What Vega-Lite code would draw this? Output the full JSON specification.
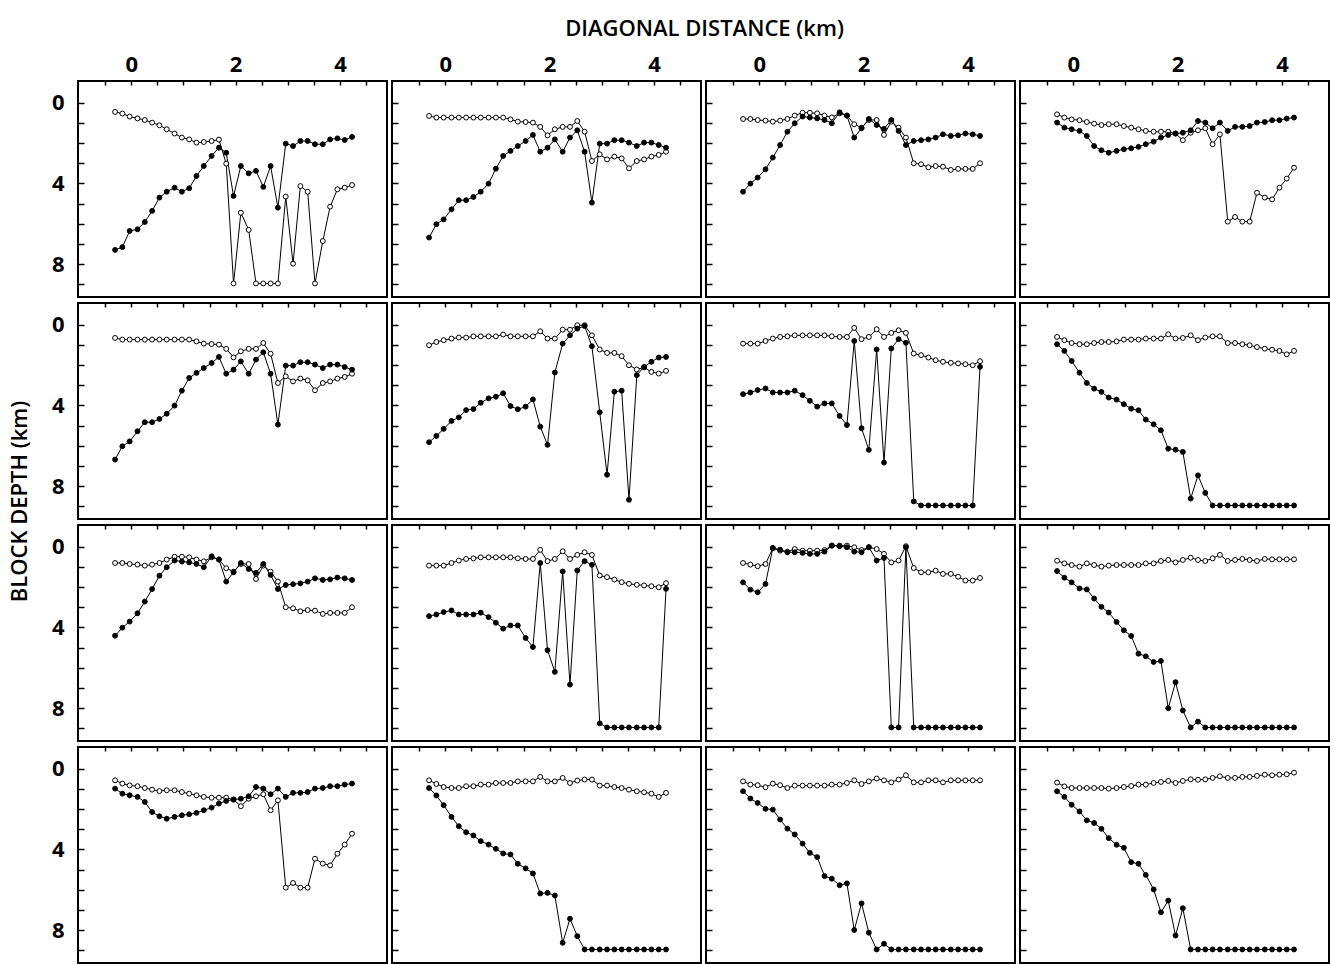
{
  "$schema": "https://vega.github.io/schema/vega-lite/v6.json",
  "padding": {"left": 7, "top": 16, "right": 0, "bottom": 0},
  "background": "white",
  "data": {"values": [
    {"block":16,"dist":-0.31,"open":0.46,"filled":7.29},{"block":16,"dist":-0.17,"open":0.54,"filled":7.15},{"block":16,"dist":-0.03,"open":0.69,"filled":6.35},{"block":16,"dist":0.12,"open":0.78,"filled":6.27},{"block":16,"dist":0.26,"open":0.86,"filled":5.91},{"block":16,"dist":0.40,"open":0.99,"filled":5.36},{"block":16,"dist":0.54,"open":1.12,"filled":4.70},{"block":16,"dist":0.68,"open":1.32,"filled":4.41},{"block":16,"dist":0.83,"open":1.53,"filled":4.21},{"block":16,"dist":0.97,"open":1.73,"filled":4.41},{"block":16,"dist":1.11,"open":1.82,"filled":4.24},{"block":16,"dist":1.25,"open":1.98,"filled":3.63},{"block":16,"dist":1.39,"open":1.95,"filled":3.14},{"block":16,"dist":1.54,"open":1.90,"filled":2.64},{"block":16,"dist":1.68,"open":1.83,"filled":2.23},{"block":16,"dist":1.82,"open":3.02,"filled":2.48},{"block":16,"dist":1.96,"open":8.95,"filled":4.62},{"block":16,"dist":2.10,"open":5.45,"filled":3.14},{"block":16,"dist":2.25,"open":6.30,"filled":3.50},{"block":16,"dist":2.39,"open":8.95,"filled":3.38},{"block":16,"dist":2.53,"open":8.95,"filled":4.17},{"block":16,"dist":2.67,"open":8.95,"filled":3.14},{"block":16,"dist":2.81,"open":8.95,"filled":5.20},{"block":16,"dist":2.96,"open":4.65,"filled":2.03},{"block":16,"dist":3.10,"open":7.97,"filled":2.15},{"block":16,"dist":3.24,"open":4.13,"filled":1.90},{"block":16,"dist":3.38,"open":4.41,"filled":1.90},{"block":16,"dist":3.52,"open":8.95,"filled":2.06},{"block":16,"dist":3.67,"open":6.85,"filled":2.06},{"block":16,"dist":3.81,"open":5.15,"filled":1.82},{"block":16,"dist":3.95,"open":4.29,"filled":1.77},{"block":16,"dist":4.09,"open":4.21,"filled":1.85},{"block":16,"dist":4.23,"open":4.08,"filled":1.70},

    {"block":15,"dist":-0.31,"open":0.66,"filled":6.68},{"block":15,"dist":-0.17,"open":0.74,"filled":6.02},{"block":15,"dist":-0.03,"open":0.74,"filled":5.78},{"block":15,"dist":0.12,"open":0.74,"filled":5.28},{"block":15,"dist":0.26,"open":0.74,"filled":4.83},{"block":15,"dist":0.40,"open":0.74,"filled":4.83},{"block":15,"dist":0.54,"open":0.74,"filled":4.67},{"block":15,"dist":0.68,"open":0.74,"filled":4.41},{"block":15,"dist":0.83,"open":0.74,"filled":4.01},{"block":15,"dist":0.97,"open":0.74,"filled":3.27},{"block":15,"dist":1.11,"open":0.74,"filled":2.64},{"block":15,"dist":1.25,"open":0.83,"filled":2.39},{"block":15,"dist":1.39,"open":0.94,"filled":2.15},{"block":15,"dist":1.54,"open":0.96,"filled":1.90},{"block":15,"dist":1.68,"open":0.99,"filled":1.60},{"block":15,"dist":1.82,"open":1.20,"filled":2.43},{"block":15,"dist":1.96,"open":1.62,"filled":2.23},{"block":15,"dist":2.10,"open":1.32,"filled":1.82},{"block":15,"dist":2.25,"open":1.20,"filled":2.43},{"block":15,"dist":2.39,"open":1.20,"filled":1.73},{"block":15,"dist":2.53,"open":0.91,"filled":1.37},{"block":15,"dist":2.67,"open":1.44,"filled":2.43},{"block":15,"dist":2.81,"open":2.89,"filled":4.95},{"block":15,"dist":2.96,"open":2.56,"filled":2.03},{"block":15,"dist":3.10,"open":2.81,"filled":2.03},{"block":15,"dist":3.24,"open":2.67,"filled":1.86},{"block":15,"dist":3.38,"open":2.76,"filled":1.86},{"block":15,"dist":3.52,"open":3.25,"filled":1.98},{"block":15,"dist":3.67,"open":2.89,"filled":2.15},{"block":15,"dist":3.81,"open":2.81,"filled":1.98},{"block":15,"dist":3.95,"open":2.67,"filled":1.98},{"block":15,"dist":4.09,"open":2.59,"filled":2.10},{"block":15,"dist":4.23,"open":2.43,"filled":2.23},

    {"block":14,"dist":-0.31,"open":0.81,"filled":4.41},{"block":14,"dist":-0.17,"open":0.81,"filled":4.01},{"block":14,"dist":-0.03,"open":0.86,"filled":3.71},{"block":14,"dist":0.12,"open":0.89,"filled":3.30},{"block":14,"dist":0.26,"open":0.94,"filled":2.72},{"block":14,"dist":0.40,"open":0.89,"filled":2.10},{"block":14,"dist":0.54,"open":0.81,"filled":1.44},{"block":14,"dist":0.68,"open":0.64,"filled":1.02},{"block":14,"dist":0.83,"open":0.50,"filled":0.69},{"block":14,"dist":0.97,"open":0.50,"filled":0.74},{"block":14,"dist":1.11,"open":0.53,"filled":0.78},{"block":14,"dist":1.25,"open":0.64,"filled":0.86},{"block":14,"dist":1.39,"open":0.73,"filled":1.02},{"block":14,"dist":1.54,"open":0.53,"filled":0.48},{"block":14,"dist":1.68,"open":0.64,"filled":0.64},{"block":14,"dist":1.82,"open":1.07,"filled":1.73},{"block":14,"dist":1.96,"open":1.24,"filled":1.27},{"block":14,"dist":2.10,"open":0.86,"filled":0.81},{"block":14,"dist":2.25,"open":0.86,"filled":1.11},{"block":14,"dist":2.39,"open":1.60,"filled":1.30},{"block":14,"dist":2.53,"open":0.94,"filled":0.86},{"block":14,"dist":2.67,"open":1.24,"filled":1.40},{"block":14,"dist":2.81,"open":1.73,"filled":2.10},{"block":14,"dist":2.96,"open":3.00,"filled":1.90},{"block":14,"dist":3.10,"open":3.05,"filled":1.86},{"block":14,"dist":3.24,"open":3.20,"filled":1.82},{"block":14,"dist":3.38,"open":3.14,"filled":1.73},{"block":14,"dist":3.52,"open":3.17,"filled":1.57},{"block":14,"dist":3.67,"open":3.33,"filled":1.65},{"block":14,"dist":3.81,"open":3.28,"filled":1.62},{"block":14,"dist":3.95,"open":3.28,"filled":1.53},{"block":14,"dist":4.09,"open":3.28,"filled":1.57},{"block":14,"dist":4.23,"open":3.00,"filled":1.65},

    {"block":13,"dist":-0.31,"open":0.58,"filled":0.99},{"block":13,"dist":-0.17,"open":0.74,"filled":1.24},{"block":13,"dist":-0.03,"open":0.83,"filled":1.32},{"block":13,"dist":0.12,"open":0.87,"filled":1.40},{"block":13,"dist":0.26,"open":0.96,"filled":1.65},{"block":13,"dist":0.40,"open":1.04,"filled":2.15},{"block":13,"dist":0.54,"open":1.11,"filled":2.36},{"block":13,"dist":0.68,"open":1.07,"filled":2.48},{"block":13,"dist":0.83,"open":1.07,"filled":2.39},{"block":13,"dist":0.97,"open":1.16,"filled":2.31},{"block":13,"dist":1.11,"open":1.24,"filled":2.26},{"block":13,"dist":1.25,"open":1.32,"filled":2.19},{"block":13,"dist":1.39,"open":1.40,"filled":2.06},{"block":13,"dist":1.54,"open":1.44,"filled":1.93},{"block":13,"dist":1.68,"open":1.44,"filled":1.73},{"block":13,"dist":1.82,"open":1.44,"filled":1.60},{"block":13,"dist":1.96,"open":1.53,"filled":1.53},{"block":13,"dist":2.10,"open":1.86,"filled":1.49},{"block":13,"dist":2.25,"open":1.49,"filled":1.37},{"block":13,"dist":2.39,"open":1.37,"filled":0.91},{"block":13,"dist":2.53,"open":1.27,"filled":0.99},{"block":13,"dist":2.67,"open":2.06,"filled":1.27},{"block":13,"dist":2.81,"open":1.57,"filled":0.99},{"block":13,"dist":2.96,"open":5.89,"filled":1.40},{"block":13,"dist":3.10,"open":5.66,"filled":1.20},{"block":13,"dist":3.24,"open":5.89,"filled":1.20},{"block":13,"dist":3.38,"open":5.89,"filled":1.16},{"block":13,"dist":3.52,"open":4.46,"filled":0.99},{"block":13,"dist":3.67,"open":4.70,"filled":0.96},{"block":13,"dist":3.81,"open":4.79,"filled":0.87},{"block":13,"dist":3.95,"open":4.21,"filled":0.87},{"block":13,"dist":4.09,"open":3.76,"filled":0.79},{"block":13,"dist":4.23,"open":3.22,"filled":0.74},

    {"block":12,"dist":-0.31,"open":0.66,"filled":6.68},{"block":12,"dist":-0.17,"open":0.74,"filled":6.02},{"block":12,"dist":-0.03,"open":0.74,"filled":5.78},{"block":12,"dist":0.12,"open":0.74,"filled":5.28},{"block":12,"dist":0.26,"open":0.74,"filled":4.83},{"block":12,"dist":0.40,"open":0.74,"filled":4.83},{"block":12,"dist":0.54,"open":0.74,"filled":4.67},{"block":12,"dist":0.68,"open":0.74,"filled":4.41},{"block":12,"dist":0.83,"open":0.74,"filled":4.01},{"block":12,"dist":0.97,"open":0.74,"filled":3.27},{"block":12,"dist":1.11,"open":0.74,"filled":2.64},{"block":12,"dist":1.25,"open":0.83,"filled":2.39},{"block":12,"dist":1.39,"open":0.94,"filled":2.15},{"block":12,"dist":1.54,"open":0.96,"filled":1.90},{"block":12,"dist":1.68,"open":0.99,"filled":1.60},{"block":12,"dist":1.82,"open":1.20,"filled":2.43},{"block":12,"dist":1.96,"open":1.62,"filled":2.23},{"block":12,"dist":2.10,"open":1.32,"filled":1.82},{"block":12,"dist":2.25,"open":1.20,"filled":2.43},{"block":12,"dist":2.39,"open":1.20,"filled":1.73},{"block":12,"dist":2.53,"open":0.91,"filled":1.37},{"block":12,"dist":2.67,"open":1.44,"filled":2.43},{"block":12,"dist":2.81,"open":2.89,"filled":4.95},{"block":12,"dist":2.96,"open":2.56,"filled":2.03},{"block":12,"dist":3.10,"open":2.81,"filled":2.03},{"block":12,"dist":3.24,"open":2.67,"filled":1.86},{"block":12,"dist":3.38,"open":2.76,"filled":1.86},{"block":12,"dist":3.52,"open":3.25,"filled":1.98},{"block":12,"dist":3.67,"open":2.89,"filled":2.15},{"block":12,"dist":3.81,"open":2.81,"filled":1.98},{"block":12,"dist":3.95,"open":2.67,"filled":1.98},{"block":12,"dist":4.09,"open":2.59,"filled":2.10},{"block":12,"dist":4.23,"open":2.43,"filled":2.23},

    {"block":11,"dist":-0.31,"open":1.02,"filled":5.82},{"block":11,"dist":-0.17,"open":0.86,"filled":5.51},{"block":11,"dist":-0.03,"open":0.77,"filled":5.16},{"block":11,"dist":0.12,"open":0.69,"filled":4.77},{"block":11,"dist":0.26,"open":0.64,"filled":4.59},{"block":11,"dist":0.40,"open":0.64,"filled":4.23},{"block":11,"dist":0.54,"open":0.58,"filled":4.18},{"block":11,"dist":0.68,"open":0.58,"filled":3.87},{"block":11,"dist":0.83,"open":0.58,"filled":3.65},{"block":11,"dist":0.97,"open":0.58,"filled":3.57},{"block":11,"dist":1.11,"open":0.49,"filled":3.40},{"block":11,"dist":1.25,"open":0.58,"filled":4.03},{"block":11,"dist":1.39,"open":0.58,"filled":4.19},{"block":11,"dist":1.54,"open":0.58,"filled":4.06},{"block":11,"dist":1.68,"open":0.58,"filled":3.70},{"block":11,"dist":1.82,"open":0.33,"filled":5.05},{"block":11,"dist":1.96,"open":0.69,"filled":5.95},{"block":11,"dist":2.10,"open":0.69,"filled":2.37},{"block":11,"dist":2.25,"open":0.25,"filled":0.94},{"block":11,"dist":2.39,"open":0.25,"filled":0.53},{"block":11,"dist":2.53,"open":0.03,"filled":0.20},{"block":11,"dist":2.67,"open":0.03,"filled":0.07},{"block":11,"dist":2.81,"open":0.53,"filled":1.07},{"block":11,"dist":2.96,"open":1.23,"filled":4.34},{"block":11,"dist":3.10,"open":1.40,"filled":7.43},{"block":11,"dist":3.24,"open":1.40,"filled":3.32},{"block":11,"dist":3.38,"open":1.56,"filled":3.27},{"block":11,"dist":3.52,"open":2.01,"filled":8.67},{"block":11,"dist":3.67,"open":2.22,"filled":2.50},{"block":11,"dist":3.81,"open":2.12,"filled":2.09},{"block":11,"dist":3.95,"open":2.34,"filled":1.84},{"block":11,"dist":4.09,"open":2.42,"filled":1.63},{"block":11,"dist":4.23,"open":2.29,"filled":1.60},

    {"block":10,"dist":-0.31,"open":0.94,"filled":3.44},{"block":10,"dist":-0.17,"open":0.94,"filled":3.36},{"block":10,"dist":-0.03,"open":0.94,"filled":3.24},{"block":10,"dist":0.12,"open":0.81,"filled":3.16},{"block":10,"dist":0.26,"open":0.69,"filled":3.36},{"block":10,"dist":0.40,"open":0.61,"filled":3.36},{"block":10,"dist":0.54,"open":0.58,"filled":3.36},{"block":10,"dist":0.68,"open":0.53,"filled":3.27},{"block":10,"dist":0.83,"open":0.53,"filled":3.49},{"block":10,"dist":0.97,"open":0.53,"filled":3.77},{"block":10,"dist":1.11,"open":0.53,"filled":4.06},{"block":10,"dist":1.25,"open":0.53,"filled":3.90},{"block":10,"dist":1.39,"open":0.58,"filled":3.90},{"block":10,"dist":1.54,"open":0.61,"filled":4.52},{"block":10,"dist":1.68,"open":0.61,"filled":4.97},{"block":10,"dist":1.82,"open":0.16,"filled":0.81},{"block":10,"dist":1.96,"open":0.72,"filled":5.13},{"block":10,"dist":2.10,"open":0.61,"filled":6.20},{"block":10,"dist":2.25,"open":0.23,"filled":1.23},{"block":10,"dist":2.39,"open":0.61,"filled":6.83},{"block":10,"dist":2.53,"open":0.41,"filled":1.18},{"block":10,"dist":2.67,"open":0.28,"filled":0.72},{"block":10,"dist":2.81,"open":0.41,"filled":0.90},{"block":10,"dist":2.96,"open":1.43,"filled":8.75},{"block":10,"dist":3.10,"open":1.51,"filled":8.95},{"block":10,"dist":3.24,"open":1.63,"filled":8.95},{"block":10,"dist":3.38,"open":1.76,"filled":8.95},{"block":10,"dist":3.52,"open":1.84,"filled":8.95},{"block":10,"dist":3.67,"open":1.89,"filled":8.95},{"block":10,"dist":3.81,"open":1.92,"filled":8.95},{"block":10,"dist":3.95,"open":1.96,"filled":8.95},{"block":10,"dist":4.09,"open":2.01,"filled":8.95},{"block":10,"dist":4.23,"open":1.81,"filled":2.09},

    {"block":9,"dist":-0.31,"open":0.61,"filled":0.97},{"block":9,"dist":-0.17,"open":0.77,"filled":1.30},{"block":9,"dist":-0.03,"open":0.91,"filled":1.80},{"block":9,"dist":0.12,"open":0.97,"filled":2.38},{"block":9,"dist":0.26,"open":0.97,"filled":2.89},{"block":9,"dist":0.40,"open":0.91,"filled":3.17},{"block":9,"dist":0.54,"open":0.86,"filled":3.33},{"block":9,"dist":0.68,"open":0.86,"filled":3.61},{"block":9,"dist":0.83,"open":0.83,"filled":3.71},{"block":9,"dist":0.97,"open":0.74,"filled":3.94},{"block":9,"dist":1.11,"open":0.74,"filled":4.16},{"block":9,"dist":1.25,"open":0.74,"filled":4.24},{"block":9,"dist":1.39,"open":0.69,"filled":4.70},{"block":9,"dist":1.54,"open":0.69,"filled":4.93},{"block":9,"dist":1.68,"open":0.69,"filled":5.23},{"block":9,"dist":1.82,"open":0.48,"filled":6.14},{"block":9,"dist":1.96,"open":0.69,"filled":6.19},{"block":9,"dist":2.10,"open":0.66,"filled":6.30},{"block":9,"dist":2.25,"open":0.53,"filled":8.61},{"block":9,"dist":2.39,"open":0.77,"filled":7.46},{"block":9,"dist":2.53,"open":0.64,"filled":8.33},{"block":9,"dist":2.67,"open":0.58,"filled":8.95},{"block":9,"dist":2.81,"open":0.58,"filled":8.95},{"block":9,"dist":2.96,"open":0.91,"filled":8.95},{"block":9,"dist":3.10,"open":0.91,"filled":8.95},{"block":9,"dist":3.24,"open":0.97,"filled":8.95},{"block":9,"dist":3.38,"open":1.02,"filled":8.95},{"block":9,"dist":3.52,"open":1.11,"filled":8.95},{"block":9,"dist":3.67,"open":1.19,"filled":8.95},{"block":9,"dist":3.81,"open":1.24,"filled":8.95},{"block":9,"dist":3.95,"open":1.30,"filled":8.95},{"block":9,"dist":4.09,"open":1.47,"filled":8.95},{"block":9,"dist":4.23,"open":1.30,"filled":8.95},

    {"block":8,"dist":-0.31,"open":0.81,"filled":4.41},{"block":8,"dist":-0.17,"open":0.81,"filled":4.01},{"block":8,"dist":-0.03,"open":0.86,"filled":3.71},{"block":8,"dist":0.12,"open":0.89,"filled":3.30},{"block":8,"dist":0.26,"open":0.94,"filled":2.72},{"block":8,"dist":0.40,"open":0.89,"filled":2.10},{"block":8,"dist":0.54,"open":0.81,"filled":1.44},{"block":8,"dist":0.68,"open":0.64,"filled":1.02},{"block":8,"dist":0.83,"open":0.50,"filled":0.69},{"block":8,"dist":0.97,"open":0.50,"filled":0.74},{"block":8,"dist":1.11,"open":0.53,"filled":0.78},{"block":8,"dist":1.25,"open":0.64,"filled":0.86},{"block":8,"dist":1.39,"open":0.73,"filled":1.02},{"block":8,"dist":1.54,"open":0.53,"filled":0.48},{"block":8,"dist":1.68,"open":0.64,"filled":0.64},{"block":8,"dist":1.82,"open":1.07,"filled":1.73},{"block":8,"dist":1.96,"open":1.24,"filled":1.27},{"block":8,"dist":2.10,"open":0.86,"filled":0.81},{"block":8,"dist":2.25,"open":0.86,"filled":1.11},{"block":8,"dist":2.39,"open":1.60,"filled":1.30},{"block":8,"dist":2.53,"open":0.94,"filled":0.86},{"block":8,"dist":2.67,"open":1.24,"filled":1.40},{"block":8,"dist":2.81,"open":1.73,"filled":2.10},{"block":8,"dist":2.96,"open":3.00,"filled":1.90},{"block":8,"dist":3.10,"open":3.05,"filled":1.86},{"block":8,"dist":3.24,"open":3.20,"filled":1.82},{"block":8,"dist":3.38,"open":3.14,"filled":1.73},{"block":8,"dist":3.52,"open":3.17,"filled":1.57},{"block":8,"dist":3.67,"open":3.33,"filled":1.65},{"block":8,"dist":3.81,"open":3.28,"filled":1.62},{"block":8,"dist":3.95,"open":3.28,"filled":1.53},{"block":8,"dist":4.09,"open":3.28,"filled":1.57},{"block":8,"dist":4.23,"open":3.00,"filled":1.65},

    {"block":7,"dist":-0.31,"open":0.94,"filled":3.44},{"block":7,"dist":-0.17,"open":0.94,"filled":3.36},{"block":7,"dist":-0.03,"open":0.94,"filled":3.24},{"block":7,"dist":0.12,"open":0.81,"filled":3.16},{"block":7,"dist":0.26,"open":0.69,"filled":3.36},{"block":7,"dist":0.40,"open":0.61,"filled":3.36},{"block":7,"dist":0.54,"open":0.58,"filled":3.36},{"block":7,"dist":0.68,"open":0.53,"filled":3.27},{"block":7,"dist":0.83,"open":0.53,"filled":3.49},{"block":7,"dist":0.97,"open":0.53,"filled":3.77},{"block":7,"dist":1.11,"open":0.53,"filled":4.06},{"block":7,"dist":1.25,"open":0.53,"filled":3.90},{"block":7,"dist":1.39,"open":0.58,"filled":3.90},{"block":7,"dist":1.54,"open":0.61,"filled":4.52},{"block":7,"dist":1.68,"open":0.61,"filled":4.97},{"block":7,"dist":1.82,"open":0.16,"filled":0.81},{"block":7,"dist":1.96,"open":0.72,"filled":5.13},{"block":7,"dist":2.10,"open":0.61,"filled":6.20},{"block":7,"dist":2.25,"open":0.23,"filled":1.23},{"block":7,"dist":2.39,"open":0.61,"filled":6.83},{"block":7,"dist":2.53,"open":0.41,"filled":1.18},{"block":7,"dist":2.67,"open":0.28,"filled":0.72},{"block":7,"dist":2.81,"open":0.41,"filled":0.90},{"block":7,"dist":2.96,"open":1.43,"filled":8.75},{"block":7,"dist":3.10,"open":1.51,"filled":8.95},{"block":7,"dist":3.24,"open":1.63,"filled":8.95},{"block":7,"dist":3.38,"open":1.76,"filled":8.95},{"block":7,"dist":3.52,"open":1.84,"filled":8.95},{"block":7,"dist":3.67,"open":1.89,"filled":8.95},{"block":7,"dist":3.81,"open":1.92,"filled":8.95},{"block":7,"dist":3.95,"open":1.96,"filled":8.95},{"block":7,"dist":4.09,"open":2.01,"filled":8.95},{"block":7,"dist":4.23,"open":1.81,"filled":2.09},

    {"block":6,"dist":-0.31,"open":0.81,"filled":1.77},{"block":6,"dist":-0.17,"open":0.89,"filled":2.13},{"block":6,"dist":-0.03,"open":0.97,"filled":2.26},{"block":6,"dist":0.12,"open":0.86,"filled":1.85},{"block":6,"dist":0.26,"open":0.08,"filled":0.07},{"block":6,"dist":0.40,"open":0.20,"filled":0.15},{"block":6,"dist":0.54,"open":0.25,"filled":0.28},{"block":6,"dist":0.68,"open":0.12,"filled":0.28},{"block":6,"dist":0.83,"open":0.20,"filled":0.31},{"block":6,"dist":0.97,"open":0.20,"filled":0.36},{"block":6,"dist":1.11,"open":0.20,"filled":0.36},{"block":6,"dist":1.25,"open":0.17,"filled":0.25},{"block":6,"dist":1.39,"open":-0.05,"filled":-0.05},{"block":6,"dist":1.54,"open":-0.05,"filled":-0.02},{"block":6,"dist":1.68,"open":-0.05,"filled":0.03},{"block":6,"dist":1.82,"open":0.03,"filled":0.25},{"block":6,"dist":1.96,"open":0.17,"filled":0.28},{"block":6,"dist":2.10,"open":0.03,"filled":0.03},{"block":6,"dist":2.25,"open":0.12,"filled":0.69},{"block":6,"dist":2.39,"open":0.36,"filled":0.56},{"block":6,"dist":2.53,"open":0.78,"filled":8.95},{"block":6,"dist":2.67,"open":0.69,"filled":8.95},{"block":6,"dist":2.81,"open":-0.02,"filled":0.03},{"block":6,"dist":2.96,"open":1.06,"filled":8.95},{"block":6,"dist":3.10,"open":1.27,"filled":8.95},{"block":6,"dist":3.24,"open":1.27,"filled":8.95},{"block":6,"dist":3.38,"open":1.19,"filled":8.95},{"block":6,"dist":3.52,"open":1.35,"filled":8.95},{"block":6,"dist":3.67,"open":1.35,"filled":8.95},{"block":6,"dist":3.81,"open":1.49,"filled":8.95},{"block":6,"dist":3.95,"open":1.68,"filled":8.95},{"block":6,"dist":4.09,"open":1.68,"filled":8.95},{"block":6,"dist":4.23,"open":1.55,"filled":8.95},

    {"block":5,"dist":-0.31,"open":0.70,"filled":1.21},{"block":5,"dist":-0.17,"open":0.83,"filled":1.54},{"block":5,"dist":-0.03,"open":0.91,"filled":1.77},{"block":5,"dist":0.12,"open":0.99,"filled":2.07},{"block":5,"dist":0.26,"open":0.83,"filled":2.12},{"block":5,"dist":0.40,"open":0.91,"filled":2.57},{"block":5,"dist":0.54,"open":0.99,"filled":2.98},{"block":5,"dist":0.68,"open":0.94,"filled":3.26},{"block":5,"dist":0.83,"open":0.91,"filled":3.73},{"block":5,"dist":0.97,"open":0.91,"filled":4.14},{"block":5,"dist":1.11,"open":0.91,"filled":4.42},{"block":5,"dist":1.25,"open":0.91,"filled":5.30},{"block":5,"dist":1.39,"open":0.83,"filled":5.43},{"block":5,"dist":1.54,"open":0.83,"filled":5.71},{"block":5,"dist":1.68,"open":0.71,"filled":5.66},{"block":5,"dist":1.82,"open":0.66,"filled":8.00},{"block":5,"dist":1.96,"open":0.78,"filled":6.71},{"block":5,"dist":2.10,"open":0.66,"filled":8.11},{"block":5,"dist":2.25,"open":0.55,"filled":8.95},{"block":5,"dist":2.39,"open":0.66,"filled":8.66},{"block":5,"dist":2.53,"open":0.71,"filled":8.95},{"block":5,"dist":2.67,"open":0.58,"filled":8.95},{"block":5,"dist":2.81,"open":0.41,"filled":8.95},{"block":5,"dist":2.96,"open":0.71,"filled":8.95},{"block":5,"dist":3.10,"open":0.66,"filled":8.95},{"block":5,"dist":3.24,"open":0.61,"filled":8.95},{"block":5,"dist":3.38,"open":0.66,"filled":8.95},{"block":5,"dist":3.52,"open":0.71,"filled":8.95},{"block":5,"dist":3.67,"open":0.61,"filled":8.95},{"block":5,"dist":3.81,"open":0.63,"filled":8.95},{"block":5,"dist":3.95,"open":0.63,"filled":8.95},{"block":5,"dist":4.09,"open":0.63,"filled":8.95},{"block":5,"dist":4.23,"open":0.63,"filled":8.95},

    {"block":4,"dist":-0.31,"open":0.58,"filled":0.99},{"block":4,"dist":-0.17,"open":0.74,"filled":1.24},{"block":4,"dist":-0.03,"open":0.83,"filled":1.32},{"block":4,"dist":0.12,"open":0.87,"filled":1.40},{"block":4,"dist":0.26,"open":0.96,"filled":1.65},{"block":4,"dist":0.40,"open":1.04,"filled":2.15},{"block":4,"dist":0.54,"open":1.11,"filled":2.36},{"block":4,"dist":0.68,"open":1.07,"filled":2.48},{"block":4,"dist":0.83,"open":1.07,"filled":2.39},{"block":4,"dist":0.97,"open":1.16,"filled":2.31},{"block":4,"dist":1.11,"open":1.24,"filled":2.26},{"block":4,"dist":1.25,"open":1.32,"filled":2.19},{"block":4,"dist":1.39,"open":1.40,"filled":2.06},{"block":4,"dist":1.54,"open":1.44,"filled":1.93},{"block":4,"dist":1.68,"open":1.44,"filled":1.73},{"block":4,"dist":1.82,"open":1.44,"filled":1.60},{"block":4,"dist":1.96,"open":1.53,"filled":1.53},{"block":4,"dist":2.10,"open":1.86,"filled":1.49},{"block":4,"dist":2.25,"open":1.49,"filled":1.37},{"block":4,"dist":2.39,"open":1.37,"filled":0.91},{"block":4,"dist":2.53,"open":1.27,"filled":0.99},{"block":4,"dist":2.67,"open":2.06,"filled":1.27},{"block":4,"dist":2.81,"open":1.57,"filled":0.99},{"block":4,"dist":2.96,"open":5.89,"filled":1.40},{"block":4,"dist":3.10,"open":5.66,"filled":1.20},{"block":4,"dist":3.24,"open":5.89,"filled":1.20},{"block":4,"dist":3.38,"open":5.89,"filled":1.16},{"block":4,"dist":3.52,"open":4.46,"filled":0.99},{"block":4,"dist":3.67,"open":4.70,"filled":0.96},{"block":4,"dist":3.81,"open":4.79,"filled":0.87},{"block":4,"dist":3.95,"open":4.21,"filled":0.87},{"block":4,"dist":4.09,"open":3.76,"filled":0.79},{"block":4,"dist":4.23,"open":3.22,"filled":0.74},

    {"block":3,"dist":-0.31,"open":0.58,"filled":0.96},{"block":3,"dist":-0.17,"open":0.76,"filled":1.33},{"block":3,"dist":-0.03,"open":0.91,"filled":1.81},{"block":3,"dist":0.12,"open":0.96,"filled":2.39},{"block":3,"dist":0.26,"open":0.96,"filled":2.85},{"block":3,"dist":0.40,"open":0.87,"filled":3.15},{"block":3,"dist":0.54,"open":0.87,"filled":3.31},{"block":3,"dist":0.68,"open":0.79,"filled":3.59},{"block":3,"dist":0.83,"open":0.79,"filled":3.76},{"block":3,"dist":0.97,"open":0.71,"filled":3.97},{"block":3,"dist":1.11,"open":0.71,"filled":4.20},{"block":3,"dist":1.25,"open":0.71,"filled":4.25},{"block":3,"dist":1.39,"open":0.63,"filled":4.71},{"block":3,"dist":1.54,"open":0.63,"filled":4.94},{"block":3,"dist":1.68,"open":0.63,"filled":5.19},{"block":3,"dist":1.82,"open":0.41,"filled":6.18},{"block":3,"dist":1.96,"open":0.63,"filled":6.15},{"block":3,"dist":2.10,"open":0.63,"filled":6.28},{"block":3,"dist":2.25,"open":0.46,"filled":8.62},{"block":3,"dist":2.39,"open":0.71,"filled":7.43},{"block":3,"dist":2.53,"open":0.59,"filled":8.29},{"block":3,"dist":2.67,"open":0.54,"filled":8.95},{"block":3,"dist":2.81,"open":0.54,"filled":8.95},{"block":3,"dist":2.96,"open":0.84,"filled":8.95},{"block":3,"dist":3.10,"open":0.84,"filled":8.95},{"block":3,"dist":3.24,"open":0.91,"filled":8.95},{"block":3,"dist":3.38,"open":0.96,"filled":8.95},{"block":3,"dist":3.52,"open":1.04,"filled":8.95},{"block":3,"dist":3.67,"open":1.12,"filled":8.95},{"block":3,"dist":3.81,"open":1.17,"filled":8.95},{"block":3,"dist":3.95,"open":1.24,"filled":8.95},{"block":3,"dist":4.09,"open":1.40,"filled":8.95},{"block":3,"dist":4.23,"open":1.20,"filled":8.95},

    {"block":2,"dist":-0.31,"open":0.63,"filled":1.12},{"block":2,"dist":-0.17,"open":0.79,"filled":1.48},{"block":2,"dist":-0.03,"open":0.82,"filled":1.70},{"block":2,"dist":0.12,"open":0.92,"filled":1.99},{"block":2,"dist":0.26,"open":0.74,"filled":2.03},{"block":2,"dist":0.40,"open":0.82,"filled":2.52},{"block":2,"dist":0.54,"open":0.96,"filled":2.97},{"block":2,"dist":0.68,"open":0.84,"filled":3.26},{"block":2,"dist":0.83,"open":0.84,"filled":3.71},{"block":2,"dist":0.97,"open":0.84,"filled":4.17},{"block":2,"dist":1.11,"open":0.84,"filled":4.38},{"block":2,"dist":1.25,"open":0.84,"filled":5.32},{"block":2,"dist":1.39,"open":0.79,"filled":5.45},{"block":2,"dist":1.54,"open":0.79,"filled":5.77},{"block":2,"dist":1.68,"open":0.71,"filled":5.68},{"block":2,"dist":1.82,"open":0.58,"filled":7.99},{"block":2,"dist":1.96,"open":0.76,"filled":6.67},{"block":2,"dist":2.10,"open":0.63,"filled":8.12},{"block":2,"dist":2.25,"open":0.49,"filled":8.95},{"block":2,"dist":2.39,"open":0.58,"filled":8.67},{"block":2,"dist":2.53,"open":0.68,"filled":8.95},{"block":2,"dist":2.67,"open":0.54,"filled":8.95},{"block":2,"dist":2.81,"open":0.33,"filled":8.95},{"block":2,"dist":2.96,"open":0.68,"filled":8.95},{"block":2,"dist":3.10,"open":0.68,"filled":8.95},{"block":2,"dist":3.24,"open":0.58,"filled":8.95},{"block":2,"dist":3.38,"open":0.58,"filled":8.95},{"block":2,"dist":3.52,"open":0.68,"filled":8.95},{"block":2,"dist":3.67,"open":0.58,"filled":8.95},{"block":2,"dist":3.81,"open":0.58,"filled":8.95},{"block":2,"dist":3.95,"open":0.58,"filled":8.95},{"block":2,"dist":4.09,"open":0.58,"filled":8.95},{"block":2,"dist":4.23,"open":0.58,"filled":8.95},

    {"block":1,"dist":-0.31,"open":0.69,"filled":1.12},{"block":1,"dist":-0.17,"open":0.88,"filled":1.40},{"block":1,"dist":-0.03,"open":0.96,"filled":1.79},{"block":1,"dist":0.12,"open":0.96,"filled":2.12},{"block":1,"dist":0.26,"open":0.96,"filled":2.56},{"block":1,"dist":0.40,"open":0.96,"filled":2.69},{"block":1,"dist":0.54,"open":0.96,"filled":2.98},{"block":1,"dist":0.68,"open":0.99,"filled":3.44},{"block":1,"dist":0.83,"open":0.96,"filled":3.77},{"block":1,"dist":0.97,"open":0.91,"filled":3.92},{"block":1,"dist":1.11,"open":0.86,"filled":4.63},{"block":1,"dist":1.25,"open":0.79,"filled":4.71},{"block":1,"dist":1.39,"open":0.79,"filled":5.26},{"block":1,"dist":1.54,"open":0.71,"filled":5.98},{"block":1,"dist":1.68,"open":0.66,"filled":7.11},{"block":1,"dist":1.82,"open":0.61,"filled":6.53},{"block":1,"dist":1.96,"open":0.71,"filled":8.26},{"block":1,"dist":2.10,"open":0.61,"filled":6.91},{"block":1,"dist":2.25,"open":0.53,"filled":8.95},{"block":1,"dist":2.39,"open":0.55,"filled":8.95},{"block":1,"dist":2.53,"open":0.53,"filled":8.95},{"block":1,"dist":2.67,"open":0.46,"filled":8.95},{"block":1,"dist":2.81,"open":0.38,"filled":8.95},{"block":1,"dist":2.96,"open":0.46,"filled":8.95},{"block":1,"dist":3.10,"open":0.46,"filled":8.95},{"block":1,"dist":3.24,"open":0.41,"filled":8.95},{"block":1,"dist":3.38,"open":0.41,"filled":8.95},{"block":1,"dist":3.52,"open":0.36,"filled":8.95},{"block":1,"dist":3.67,"open":0.30,"filled":8.95},{"block":1,"dist":3.81,"open":0.33,"filled":8.95},{"block":1,"dist":3.95,"open":0.30,"filled":8.95},{"block":1,"dist":4.09,"open":0.28,"filled":8.95},{"block":1,"dist":4.23,"open":0.20,"filled":8.95}
  ]},
  "transform": [{"fold": ["open", "filled"], "as": ["kind", "depth"]}],
  "bounds": "flush",
  "spacing": {"row": 6, "column": 5},
  "columns": 4,
  "concat": [
    {"width":309,"height":216,"transform":[{"filter":"datum.block == 16"}],
     "encoding":{"x":{"field":"dist","type":"quantitative","scale":{"domain":[-1.02,4.9],"nice":false,"zero":false},"axis":{"orient":"top","values":[-0.5,0,0.5,1,1.5,2,2.5,3,3.5,4,4.5],"title":"DIAGONAL DISTANCE (km)","titleX":626,"titleY":-46,"titleAlign":"center","titleBaseline":"alphabetic","titleAngle":0}},
                 "y":{"field":"depth","type":"quantitative","scale":{"domain":[-1.07,9.62],"nice":false,"zero":false,"reverse":true},"axis":{"values":[0,1,2,3,4,5,6,7,8,9],"title":null}}},
     "layer":[
       {"mark":{"type":"line","color":"black","strokeWidth":1},"encoding":{"detail":{"field":"kind"}}},
       {"mark":{"type":"point","shape":"circle","filled":true,"size":24,"stroke":"black","strokeWidth":1,"opacity":1},"encoding":{"fill":{"field":"kind","type":"nominal","scale":{"domain":["open","filled"],"range":["white","black"]},"legend":null}}},
       {"transform":[{"aggregate":[{"op":"max","field":"block","as":"block"}]}],"mark":{"type":"text","fontSize":23,"align":"center","baseline":"middle","color":"black"},"encoding":{"x":{"datum":0.72},"y":{"datum":7.8},"text":{"field":"block","type":"quantitative"}}}
     ]},
    {"width":309,"height":216,"transform":[{"filter":"datum.block == 15"}],
     "encoding":{"x":{"field":"dist","type":"quantitative","scale":{"domain":[-1.02,4.9],"nice":false,"zero":false},"axis":{"orient":"top","values":[-0.5,0,0.5,1,1.5,2,2.5,3,3.5,4,4.5],"title":null}},
                 "y":{"field":"depth","type":"quantitative","scale":{"domain":[-1.07,9.62],"nice":false,"zero":false,"reverse":true},"axis":{"values":[0,1,2,3,4,5,6,7,8,9],"title":null,"labels":false}}},
     "layer":[
       {"mark":{"type":"line","color":"black","strokeWidth":1},"encoding":{"detail":{"field":"kind"}}},
       {"mark":{"type":"point","shape":"circle","filled":true,"size":24,"stroke":"black","strokeWidth":1,"opacity":1},"encoding":{"fill":{"field":"kind","type":"nominal","scale":{"domain":["open","filled"],"range":["white","black"]},"legend":null}}},
       {"transform":[{"aggregate":[{"op":"max","field":"block","as":"block"}]}],"mark":{"type":"text","fontSize":23,"align":"center","baseline":"middle","color":"black"},"encoding":{"x":{"datum":0.7},"y":{"datum":7.8},"text":{"field":"block","type":"quantitative"}}}
     ]},
    {"width":309,"height":216,"transform":[{"filter":"datum.block == 14"}],
     "encoding":{"x":{"field":"dist","type":"quantitative","scale":{"domain":[-1.02,4.9],"nice":false,"zero":false},"axis":{"orient":"top","values":[-0.5,0,0.5,1,1.5,2,2.5,3,3.5,4,4.5],"title":null}},
                 "y":{"field":"depth","type":"quantitative","scale":{"domain":[-1.07,9.62],"nice":false,"zero":false,"reverse":true},"axis":{"values":[0,1,2,3,4,5,6,7,8,9],"title":null,"labels":false}}},
     "layer":[
       {"mark":{"type":"line","color":"black","strokeWidth":1},"encoding":{"detail":{"field":"kind"}}},
       {"mark":{"type":"point","shape":"circle","filled":true,"size":24,"stroke":"black","strokeWidth":1,"opacity":1},"encoding":{"fill":{"field":"kind","type":"nominal","scale":{"domain":["open","filled"],"range":["white","black"]},"legend":null}}},
       {"transform":[{"aggregate":[{"op":"max","field":"block","as":"block"}]}],"mark":{"type":"text","fontSize":23,"align":"center","baseline":"middle","color":"black"},"encoding":{"x":{"datum":0.7},"y":{"datum":7.8},"text":{"field":"block","type":"quantitative"}}}
     ]},
    {"width":309,"height":216,"transform":[{"filter":"datum.block == 13"}],
     "encoding":{"x":{"field":"dist","type":"quantitative","scale":{"domain":[-1.02,4.9],"nice":false,"zero":false},"axis":{"orient":"top","values":[-0.5,0,0.5,1,1.5,2,2.5,3,3.5,4,4.5],"title":null}},
                 "y":{"field":"depth","type":"quantitative","scale":{"domain":[-1.07,9.62],"nice":false,"zero":false,"reverse":true},"axis":{"values":[0,1,2,3,4,5,6,7,8,9],"title":null,"labels":false}}},
     "layer":[
       {"mark":{"type":"line","color":"black","strokeWidth":1},"encoding":{"detail":{"field":"kind"}}},
       {"mark":{"type":"point","shape":"circle","filled":true,"size":24,"stroke":"black","strokeWidth":1,"opacity":1},"encoding":{"fill":{"field":"kind","type":"nominal","scale":{"domain":["open","filled"],"range":["white","black"]},"legend":null}}},
       {"transform":[{"aggregate":[{"op":"max","field":"block","as":"block"}]}],"mark":{"type":"text","fontSize":23,"align":"center","baseline":"middle","color":"black"},"encoding":{"x":{"datum":0.73},"y":{"datum":7.75},"text":{"field":"block","type":"quantitative"}}}
     ]},

    {"width":309,"height":216,"transform":[{"filter":"datum.block == 12"}],
     "encoding":{"x":{"field":"dist","type":"quantitative","scale":{"domain":[-1.02,4.9],"nice":false,"zero":false},"axis":{"orient":"top","values":[-0.5,0,0.5,1,1.5,2,2.5,3,3.5,4,4.5],"title":null,"labels":false}},
                 "y":{"field":"depth","type":"quantitative","scale":{"domain":[-1.07,9.62],"nice":false,"zero":false,"reverse":true},"axis":{"values":[0,1,2,3,4,5,6,7,8,9],"title":"BLOCK DEPTH (km)","titleX":-52,"titleY":198,"titleAngle":270,"titleAlign":"center","titleBaseline":"alphabetic"}}},
     "layer":[
       {"mark":{"type":"line","color":"black","strokeWidth":1},"encoding":{"detail":{"field":"kind"}}},
       {"mark":{"type":"point","shape":"circle","filled":true,"size":24,"stroke":"black","strokeWidth":1,"opacity":1},"encoding":{"fill":{"field":"kind","type":"nominal","scale":{"domain":["open","filled"],"range":["white","black"]},"legend":null}}},
       {"transform":[{"aggregate":[{"op":"max","field":"block","as":"block"}]}],"mark":{"type":"text","fontSize":23,"align":"center","baseline":"middle","color":"black"},"encoding":{"x":{"datum":0.6},"y":{"datum":7.8},"text":{"field":"block","type":"quantitative"}}}
     ]},
    {"width":309,"height":216,"transform":[{"filter":"datum.block == 11"}],
     "encoding":{"x":{"field":"dist","type":"quantitative","scale":{"domain":[-1.02,4.9],"nice":false,"zero":false},"axis":{"orient":"top","values":[-0.5,0,0.5,1,1.5,2,2.5,3,3.5,4,4.5],"title":null,"labels":false}},
                 "y":{"field":"depth","type":"quantitative","scale":{"domain":[-1.07,9.62],"nice":false,"zero":false,"reverse":true},"axis":{"values":[0,1,2,3,4,5,6,7,8,9],"title":null,"labels":false}}},
     "layer":[
       {"mark":{"type":"line","color":"black","strokeWidth":1},"encoding":{"detail":{"field":"kind"}}},
       {"mark":{"type":"point","shape":"circle","filled":true,"size":24,"stroke":"black","strokeWidth":1,"opacity":1},"encoding":{"fill":{"field":"kind","type":"nominal","scale":{"domain":["open","filled"],"range":["white","black"]},"legend":null}}},
       {"transform":[{"aggregate":[{"op":"max","field":"block","as":"block"}]}],"mark":{"type":"text","fontSize":23,"align":"center","baseline":"middle","color":"black"},"encoding":{"x":{"datum":0.67},"y":{"datum":7.8},"text":{"field":"block","type":"quantitative"}}}
     ]},
    {"width":309,"height":216,"transform":[{"filter":"datum.block == 10"}],
     "encoding":{"x":{"field":"dist","type":"quantitative","scale":{"domain":[-1.02,4.9],"nice":false,"zero":false},"axis":{"orient":"top","values":[-0.5,0,0.5,1,1.5,2,2.5,3,3.5,4,4.5],"title":null,"labels":false}},
                 "y":{"field":"depth","type":"quantitative","scale":{"domain":[-1.07,9.62],"nice":false,"zero":false,"reverse":true},"axis":{"values":[0,1,2,3,4,5,6,7,8,9],"title":null,"labels":false}}},
     "layer":[
       {"mark":{"type":"line","color":"black","strokeWidth":1},"encoding":{"detail":{"field":"kind"}}},
       {"mark":{"type":"point","shape":"circle","filled":true,"size":24,"stroke":"black","strokeWidth":1,"opacity":1},"encoding":{"fill":{"field":"kind","type":"nominal","scale":{"domain":["open","filled"],"range":["white","black"]},"legend":null}}},
       {"transform":[{"aggregate":[{"op":"max","field":"block","as":"block"}]}],"mark":{"type":"text","fontSize":23,"align":"center","baseline":"middle","color":"black"},"encoding":{"x":{"datum":0.67},"y":{"datum":7.8},"text":{"field":"block","type":"quantitative"}}}
     ]},
    {"width":309,"height":216,"transform":[{"filter":"datum.block == 9"}],
     "encoding":{"x":{"field":"dist","type":"quantitative","scale":{"domain":[-1.02,4.9],"nice":false,"zero":false},"axis":{"orient":"top","values":[-0.5,0,0.5,1,1.5,2,2.5,3,3.5,4,4.5],"title":null,"labels":false}},
                 "y":{"field":"depth","type":"quantitative","scale":{"domain":[-1.07,9.62],"nice":false,"zero":false,"reverse":true},"axis":{"values":[0,1,2,3,4,5,6,7,8,9],"title":null,"labels":false}}},
     "layer":[
       {"mark":{"type":"line","color":"black","strokeWidth":1},"encoding":{"detail":{"field":"kind"}}},
       {"mark":{"type":"point","shape":"circle","filled":true,"size":24,"stroke":"black","strokeWidth":1,"opacity":1},"encoding":{"fill":{"field":"kind","type":"nominal","scale":{"domain":["open","filled"],"range":["white","black"]},"legend":null}}},
       {"transform":[{"aggregate":[{"op":"max","field":"block","as":"block"}]}],"mark":{"type":"text","fontSize":23,"align":"center","baseline":"middle","color":"black"},"encoding":{"x":{"datum":0.86},"y":{"datum":7.72},"text":{"field":"block","type":"quantitative"}}}
     ]},

    {"width":309,"height":216,"transform":[{"filter":"datum.block == 8"}],
     "encoding":{"x":{"field":"dist","type":"quantitative","scale":{"domain":[-1.02,4.9],"nice":false,"zero":false},"axis":{"orient":"top","values":[-0.5,0,0.5,1,1.5,2,2.5,3,3.5,4,4.5],"title":null,"labels":false}},
                 "y":{"field":"depth","type":"quantitative","scale":{"domain":[-1.07,9.62],"nice":false,"zero":false,"reverse":true},"axis":{"values":[0,1,2,3,4,5,6,7,8,9],"title":null}}},
     "layer":[
       {"mark":{"type":"line","color":"black","strokeWidth":1},"encoding":{"detail":{"field":"kind"}}},
       {"mark":{"type":"point","shape":"circle","filled":true,"size":24,"stroke":"black","strokeWidth":1,"opacity":1},"encoding":{"fill":{"field":"kind","type":"nominal","scale":{"domain":["open","filled"],"range":["white","black"]},"legend":null}}},
       {"transform":[{"aggregate":[{"op":"max","field":"block","as":"block"}]}],"mark":{"type":"text","fontSize":23,"align":"center","baseline":"middle","color":"black"},"encoding":{"x":{"datum":0.8},"y":{"datum":7.8},"text":{"field":"block","type":"quantitative"}}}
     ]},
    {"width":309,"height":216,"transform":[{"filter":"datum.block == 7"}],
     "encoding":{"x":{"field":"dist","type":"quantitative","scale":{"domain":[-1.02,4.9],"nice":false,"zero":false},"axis":{"orient":"top","values":[-0.5,0,0.5,1,1.5,2,2.5,3,3.5,4,4.5],"title":null,"labels":false}},
                 "y":{"field":"depth","type":"quantitative","scale":{"domain":[-1.07,9.62],"nice":false,"zero":false,"reverse":true},"axis":{"values":[0,1,2,3,4,5,6,7,8,9],"title":null,"labels":false}}},
     "layer":[
       {"mark":{"type":"line","color":"black","strokeWidth":1},"encoding":{"detail":{"field":"kind"}}},
       {"mark":{"type":"point","shape":"circle","filled":true,"size":24,"stroke":"black","strokeWidth":1,"opacity":1},"encoding":{"fill":{"field":"kind","type":"nominal","scale":{"domain":["open","filled"],"range":["white","black"]},"legend":null}}},
       {"transform":[{"aggregate":[{"op":"max","field":"block","as":"block"}]}],"mark":{"type":"text","fontSize":23,"align":"center","baseline":"middle","color":"black"},"encoding":{"x":{"datum":0.8},"y":{"datum":7.8},"text":{"field":"block","type":"quantitative"}}}
     ]},
    {"width":309,"height":216,"transform":[{"filter":"datum.block == 6"}],
     "encoding":{"x":{"field":"dist","type":"quantitative","scale":{"domain":[-1.02,4.9],"nice":false,"zero":false},"axis":{"orient":"top","values":[-0.5,0,0.5,1,1.5,2,2.5,3,3.5,4,4.5],"title":null,"labels":false}},
                 "y":{"field":"depth","type":"quantitative","scale":{"domain":[-1.07,9.62],"nice":false,"zero":false,"reverse":true},"axis":{"values":[0,1,2,3,4,5,6,7,8,9],"title":null,"labels":false}}},
     "layer":[
       {"mark":{"type":"line","color":"black","strokeWidth":1},"encoding":{"detail":{"field":"kind"}}},
       {"mark":{"type":"point","shape":"circle","filled":true,"size":24,"stroke":"black","strokeWidth":1,"opacity":1},"encoding":{"fill":{"field":"kind","type":"nominal","scale":{"domain":["open","filled"],"range":["white","black"]},"legend":null}}},
       {"transform":[{"aggregate":[{"op":"max","field":"block","as":"block"}]}],"mark":{"type":"text","fontSize":23,"align":"center","baseline":"middle","color":"black"},"encoding":{"x":{"datum":0.76},"y":{"datum":7.85},"text":{"field":"block","type":"quantitative"}}}
     ]},
    {"width":309,"height":216,"transform":[{"filter":"datum.block == 5"}],
     "encoding":{"x":{"field":"dist","type":"quantitative","scale":{"domain":[-1.02,4.9],"nice":false,"zero":false},"axis":{"orient":"top","values":[-0.5,0,0.5,1,1.5,2,2.5,3,3.5,4,4.5],"title":null,"labels":false}},
                 "y":{"field":"depth","type":"quantitative","scale":{"domain":[-1.07,9.62],"nice":false,"zero":false,"reverse":true},"axis":{"values":[0,1,2,3,4,5,6,7,8,9],"title":null,"labels":false}}},
     "layer":[
       {"mark":{"type":"line","color":"black","strokeWidth":1},"encoding":{"detail":{"field":"kind"}}},
       {"mark":{"type":"point","shape":"circle","filled":true,"size":24,"stroke":"black","strokeWidth":1,"opacity":1},"encoding":{"fill":{"field":"kind","type":"nominal","scale":{"domain":["open","filled"],"range":["white","black"]},"legend":null}}},
       {"transform":[{"aggregate":[{"op":"max","field":"block","as":"block"}]}],"mark":{"type":"text","fontSize":23,"align":"center","baseline":"middle","color":"black"},"encoding":{"x":{"datum":0.86},"y":{"datum":7.8},"text":{"field":"block","type":"quantitative"}}}
     ]},

    {"width":309,"height":216,"transform":[{"filter":"datum.block == 4"}],
     "encoding":{"x":{"field":"dist","type":"quantitative","scale":{"domain":[-1.02,4.9],"nice":false,"zero":false},"axis":{"orient":"top","values":[-0.5,0,0.5,1,1.5,2,2.5,3,3.5,4,4.5],"title":null,"labels":false}},
                 "y":{"field":"depth","type":"quantitative","scale":{"domain":[-1.07,9.62],"nice":false,"zero":false,"reverse":true},"axis":{"values":[0,1,2,3,4,5,6,7,8,9],"title":null}}},
     "layer":[
       {"mark":{"type":"line","color":"black","strokeWidth":1},"encoding":{"detail":{"field":"kind"}}},
       {"mark":{"type":"point","shape":"circle","filled":true,"size":24,"stroke":"black","strokeWidth":1,"opacity":1},"encoding":{"fill":{"field":"kind","type":"nominal","scale":{"domain":["open","filled"],"range":["white","black"]},"legend":null}}},
       {"transform":[{"aggregate":[{"op":"max","field":"block","as":"block"}]}],"mark":{"type":"text","fontSize":23,"align":"center","baseline":"middle","color":"black"},"encoding":{"x":{"datum":0.8},"y":{"datum":7.8},"text":{"field":"block","type":"quantitative"}}}
     ]},
    {"width":309,"height":216,"transform":[{"filter":"datum.block == 3"}],
     "encoding":{"x":{"field":"dist","type":"quantitative","scale":{"domain":[-1.02,4.9],"nice":false,"zero":false},"axis":{"orient":"top","values":[-0.5,0,0.5,1,1.5,2,2.5,3,3.5,4,4.5],"title":null,"labels":false}},
                 "y":{"field":"depth","type":"quantitative","scale":{"domain":[-1.07,9.62],"nice":false,"zero":false,"reverse":true},"axis":{"values":[0,1,2,3,4,5,6,7,8,9],"title":null,"labels":false}}},
     "layer":[
       {"mark":{"type":"line","color":"black","strokeWidth":1},"encoding":{"detail":{"field":"kind"}}},
       {"mark":{"type":"point","shape":"circle","filled":true,"size":24,"stroke":"black","strokeWidth":1,"opacity":1},"encoding":{"fill":{"field":"kind","type":"nominal","scale":{"domain":["open","filled"],"range":["white","black"]},"legend":null}}},
       {"transform":[{"aggregate":[{"op":"max","field":"block","as":"block"}]}],"mark":{"type":"text","fontSize":23,"align":"center","baseline":"middle","color":"black"},"encoding":{"x":{"datum":0.76},"y":{"datum":7.8},"text":{"field":"block","type":"quantitative"}}}
     ]},
    {"width":309,"height":216,"transform":[{"filter":"datum.block == 2"}],
     "encoding":{"x":{"field":"dist","type":"quantitative","scale":{"domain":[-1.02,4.9],"nice":false,"zero":false},"axis":{"orient":"top","values":[-0.5,0,0.5,1,1.5,2,2.5,3,3.5,4,4.5],"title":null,"labels":false}},
                 "y":{"field":"depth","type":"quantitative","scale":{"domain":[-1.07,9.62],"nice":false,"zero":false,"reverse":true},"axis":{"values":[0,1,2,3,4,5,6,7,8,9],"title":null,"labels":false}}},
     "layer":[
       {"mark":{"type":"line","color":"black","strokeWidth":1},"encoding":{"detail":{"field":"kind"}}},
       {"mark":{"type":"point","shape":"circle","filled":true,"size":24,"stroke":"black","strokeWidth":1,"opacity":1},"encoding":{"fill":{"field":"kind","type":"nominal","scale":{"domain":["open","filled"],"range":["white","black"]},"legend":null}}},
       {"transform":[{"aggregate":[{"op":"max","field":"block","as":"block"}]}],"mark":{"type":"text","fontSize":23,"align":"center","baseline":"middle","color":"black"},"encoding":{"x":{"datum":0.72},"y":{"datum":7.85},"text":{"field":"block","type":"quantitative"}}}
     ]},
    {"width":309,"height":216,"transform":[{"filter":"datum.block == 1"}],
     "encoding":{"x":{"field":"dist","type":"quantitative","scale":{"domain":[-1.02,4.9],"nice":false,"zero":false},"axis":{"orient":"top","values":[-0.5,0,0.5,1,1.5,2,2.5,3,3.5,4,4.5],"title":null,"labels":false}},
                 "y":{"field":"depth","type":"quantitative","scale":{"domain":[-1.07,9.62],"nice":false,"zero":false,"reverse":true},"axis":{"values":[0,1,2,3,4,5,6,7,8,9],"title":null,"labels":false}}},
     "layer":[
       {"mark":{"type":"line","color":"black","strokeWidth":1},"encoding":{"detail":{"field":"kind"}}},
       {"mark":{"type":"point","shape":"circle","filled":true,"size":24,"stroke":"black","strokeWidth":1,"opacity":1},"encoding":{"fill":{"field":"kind","type":"nominal","scale":{"domain":["open","filled"],"range":["white","black"]},"legend":null}}},
       {"transform":[{"aggregate":[{"op":"max","field":"block","as":"block"}]}],"mark":{"type":"text","fontSize":23,"align":"center","baseline":"middle","color":"black"},"encoding":{"x":{"datum":0.85},"y":{"datum":7.77},"text":{"field":"block","type":"quantitative"}}}
     ]}
  ],
  "config": {
    "font": "Open Sans",
    "view": {"stroke": "black", "strokeWidth": 2},
    "text": {"font": "Open Sans"},
    "axis": {
      "domain": false, "grid": false, "ticks": true,
      "tickColor": "black", "tickWidth": 1.5,
      "labelFont": "Open Sans", "labelFontSize": 22, "labelFontWeight": "bold", "labelColor": "black",
      "labelOverlap": false, "labelFlush": false, "labelBound": false,
      "titleFont": "Open Sans", "titleFontSize": 22, "titleFontWeight": 600, "titleColor": "black"
    },
    "axisX": {"tickSize": -4, "labelPadding": 9, "labelExpr": "datum.value % 2 == 0 ? format(datum.value, 'd') : ''"},
    "axisY": {"tickSize": -6, "labelPadding": 20, "labelExpr": "datum.value % 4 == 0 ? format(datum.value, 'd') : ''"}
  }
}
